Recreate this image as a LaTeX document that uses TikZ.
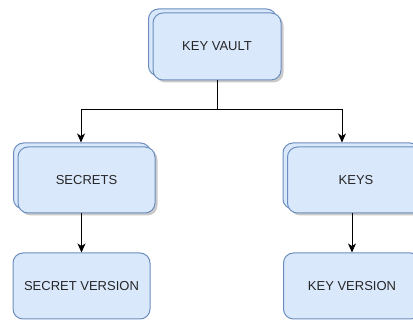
\documentclass[tikz,border=0pt]{standalone}
\usepackage{fontspec}
\setmainfont{Liberation Sans}
\usepackage{xcolor}
\usetikzlibrary{arrows.meta,positioning,shadows}

\definecolor{boxfill}{HTML}{DAE8FC}
\definecolor{boxdraw}{HTML}{6C8EBF}

\begin{document}
\begin{tikzpicture}[
  x=1pt, y=-1pt,
  node distance=39pt and 40pt,
  block/.style={draw=boxdraw, fill=boxfill, line width=1pt, rounded corners=10pt, align=center, font=\fontsize{13}{15}\selectfont, text=black!85, minimum width=137pt, minimum height=66pt, inner sep=0pt},
  stack/.style={block, drop shadow={shadow xshift=2.5pt, shadow yshift=-2.5pt, fill=black!35, opacity=0.6}, copy shadow={shadow xshift=-4.5pt, shadow yshift=4pt, fill=boxfill, draw=boxdraw, line width=1pt}},
  arr/.style={-{Stealth[length=9pt, width=8pt, inset=2.5pt]}, line width=1pt, draw=black}
]
\useasboundingbox (0,0) rectangle (413,320);
\node[stack, minimum width=128pt, minimum height=67pt] (vault) at (217,46.5) {KEY VAULT};
\node[stack] (secrets) at (86.5,180) {SECRETS};
\node[stack] (keys) at (356,180) {KEYS};
\node[block, below=39pt of secrets, xshift=-5pt] (secver) {SECRET VERSION};
\node[block, below=39pt of keys, xshift=-4pt] (keyver) {KEY VERSION};
\coordinate[below=29pt of vault] (split);
\draw[arr] (vault.south) -- (split) -| ([shift={(-5.5pt,4pt)}]secrets.north);
\draw[arr] (split) -| ([shift={(-14pt,4pt)}]keys.north);
\draw[arr] (secver.north |- secrets.south) -- (secver.north);
\draw[arr] (keyver.north |- keys.south) -- (keyver.north);
\end{tikzpicture}
\end{document}
